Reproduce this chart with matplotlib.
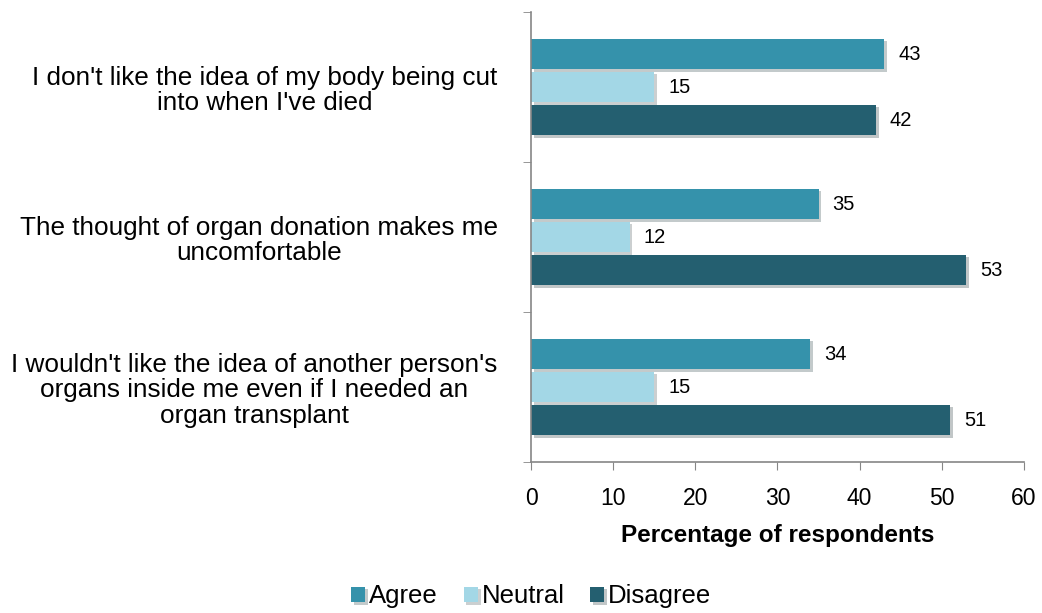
import matplotlib.pyplot as plt
import matplotlib.patheffects as pe
import numpy as np

plt.rcParams['font.family'] = ['Liberation Sans', 'DejaVu Sans']

# data
statements = ["I don't like the idea of my body being cut\ninto when I've died",
              "The thought of organ donation makes me\nuncomfortable",
              "I wouldn't like the idea of another person's\norgans inside me even if I needed an\norgan transplant"]
agree = [43, 35, 34]
neutral = [15, 12, 15]
disagree = [42, 53, 51]
series_names = ['Agree', 'Neutral', 'Disagree']
colors = ['#3592ab', '#a3d7e6', '#245f70']

fig = plt.figure(figsize=(10.42, 6.13), dpi=100)
ax = fig.add_axes([0.5096, 0.2463, 0.4731, 0.7341])

y = np.arange(len(statements))
offsets = [-0.22, 0, 0.22]
shadow = [pe.SimplePatchShadow(offset=(2, -2), alpha=0.25), pe.Normal()]
for vals, off, col, name in zip([agree, neutral, disagree], offsets, colors, series_names):
    bars = ax.barh(y + off, vals, height=0.205, color=col, label=name)
    for b in bars:
        b.set_path_effects(shadow)
    ax.bar_label(bars, padding=10, fontsize=14.5)

ax.set_ylim(2.5, -0.5)
ax.set_xlim(0, 60)
ax.set_xticks(range(0, 61, 10))
ax.tick_params(axis='x', labelsize=16.5, length=6, color='#868686', direction='out', pad=12)

ax.set_yticks(y)
ax.set_yticklabels(statements, fontsize=18.8, ha='right', multialignment='center',
                   linespacing=1.1)
ax.tick_params(axis='y', which='major', length=0, pad=24)
ax.set_yticks([-0.5, 0.5, 1.5, 2.5], minor=True)
ax.tick_params(axis='y', which='minor', length=6, color='#868686')

for s in ['top', 'right']:
    ax.spines[s].set_visible(False)
for s in ['left', 'bottom']:
    ax.spines[s].set_color('#868686')
    ax.spines[s].set_linewidth(1.2)

ax.set_xlabel('Percentage of respondents', fontsize=17.5, fontweight='bold', labelpad=10)

fig.legend(loc='lower center', bbox_to_anchor=(0.51, -0.022), ncol=3, frameon=False,
           fontsize=18.5, handlelength=0.55, handleheight=0.55, handletextpad=0.15,
           columnspacing=1.0, borderaxespad=0.3)

fig.savefig('out.png', dpi=100)
